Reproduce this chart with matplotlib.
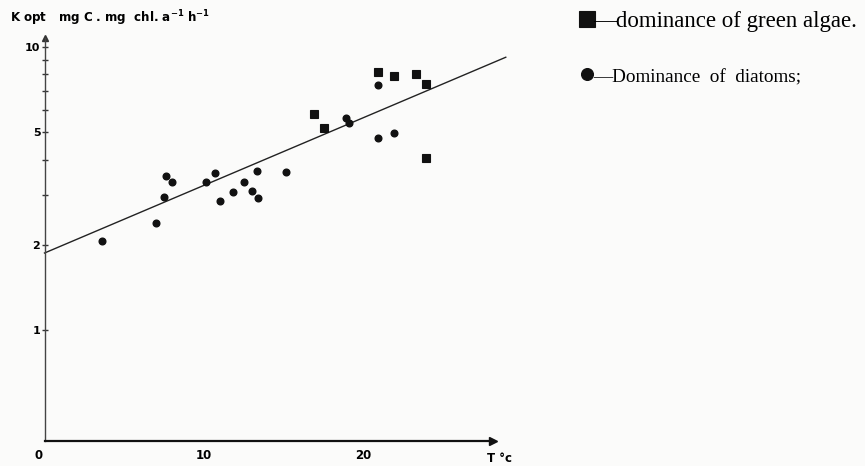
import matplotlib
matplotlib.use("Agg")
import matplotlib.pyplot as plt
import matplotlib.transforms as mtransforms
from matplotlib.ticker import FixedLocator, NullFormatter

# Optimal photosynthesis rate vs temperature
diatom_T = [3.6, 7.0, 7.5, 7.6, 8.0, 10.1, 10.7, 11.0, 11.8, 12.5, 13.0, 13.3,
            13.4, 15.1, 18.9, 19.1, 20.9, 20.9, 21.9]
diatom_K = [2.06, 2.38, 2.94, 3.50, 3.33, 3.32, 3.58, 2.86, 3.07, 3.34, 3.11,
            3.65, 2.92, 3.63, 5.60, 5.38, 7.34, 4.78, 4.98]

green_T = [16.9, 17.5, 20.9, 21.9, 23.3, 23.9, 23.9]
green_K = [5.78, 5.19, 8.18, 7.92, 8.01, 7.38, 4.06]

# Fitted regression line (log K linear in T)
fit_T = [0.0, 28.9]
fit_K = [1.87, 9.2]

x_ticks = [0, 10, 20]
y_major = [1, 2, 5, 10]
y_minor = [3, 4, 6, 7, 8, 9]

W, H = 865, 466
fig = plt.figure(figsize=(W / 100, H / 100), dpi=100)
fig.patch.set_facecolor("#fbfbfa")

left, right, bottom, top = 44.5 / W, 493 / W, 1 - 441 / H, 1 - 38 / H
ax = fig.add_axes([left, bottom, right - left, top - bottom])
ax.set_facecolor("none")
ax.set_yscale("log")
ax.set_xlim(0, 28.1)
ax.set_ylim(0.405, 10.76)

for s in ("top", "right"):
    ax.spines[s].set_visible(False)
ax.spines["bottom"].set_linewidth(1.6)
ax.spines["bottom"].set_color("#111111")
ax.spines["left"].set_linewidth(1.0)
ax.spines["left"].set_color("#444444")
ax.spines["left"].set_linestyle((0, (1.5, 1.0)))

# axis arrow heads
ax.plot([1], [0], marker=">", ms=6, color="#111111", transform=ax.transAxes,
        clip_on=False)
ax.plot([0], [1], marker="^", ms=4, color="#333333", transform=ax.transAxes,
        clip_on=False)

# y ticks
ax.yaxis.set_major_locator(FixedLocator(y_major))
ax.yaxis.set_minor_locator(FixedLocator(y_minor))
ax.yaxis.set_minor_formatter(NullFormatter())
ax.set_yticklabels([str(v) for v in y_major])
ax.tick_params(axis="y", which="both", direction="inout", length=4, width=1,
               color="#333333", pad=1, labelsize=8)
for lab in ax.get_yticklabels():
    lab.set_fontweight("bold")

# x ticks
ax.set_xticks(x_ticks)
ax.set_xticklabels([str(v) for v in x_ticks])
ax.tick_params(axis="x", length=0, pad=6, labelsize=8.5)
for i, lab in enumerate(ax.get_xticklabels()):
    lab.set_fontweight("bold")
    if i == 0:
        lab.set_transform(lab.get_transform() +
                          mtransforms.ScaledTranslation(-6 / 100, 0, fig.dpi_scale_trans))

# regression line
ax.plot(fit_T, fit_K, color="#222222", lw=1.0, clip_on=False, zorder=2)

# data
sq, = ax.plot(green_T, green_K, ls="none", marker="s", ms=6.2, color="#111111",
              mew=0.8, mec="#111111", zorder=3)
ci, = ax.plot(diatom_T, diatom_K, ls="none", marker="o", ms=4.8, color="#111111",
              zorder=3)

# axis titles
fig.text(10 / W, 1 - 18 / H, r"K opt   mg C . mg  chl. a$^{\mathbf{-1}}$ h$^{\mathbf{-1}}$",
         fontsize=8.6, fontweight="bold", va="center", ha="left")
fig.text(487 / W, 1 - 459 / H, "T °c", fontsize=8.5, fontweight="bold",
         va="center", ha="left")

# legend
serif = {"family": "Liberation Serif", "size": 16.5}
leg = ax.legend([sq, ci], ["—dominance of green algae.", "—Dominance  of  diatoms;"],
                loc="upper left", bbox_to_anchor=(581 / W, 1 - 11 / H),
                bbox_transform=fig.transFigure, frameon=False,
                handlelength=0.55, handletextpad=0.0, labelspacing=1.5,
                markerscale=1.75, prop=serif, borderaxespad=0, borderpad=0)
leg.get_texts()[1].set_fontsize(13.8)

fig.savefig("out.png", dpi=100, facecolor=fig.get_facecolor())
